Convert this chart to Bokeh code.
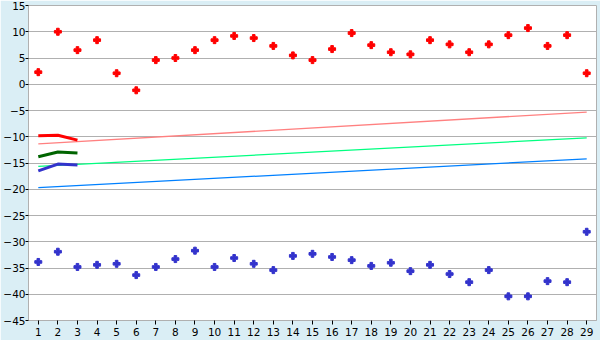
from bokeh.plotting import figure
from bokeh.embed import file_html
from bokeh.resources import INLINE
from bokeh.models import FixedTicker, LinearAxis

days = list(range(1, 30))
red_vals = [2.3, 10.0, 6.5, 8.4, 2.1, -1.15, 4.6, 5.0, 6.5, 8.4, 9.2, 8.8, 7.3, 5.5, 4.6,
            6.7, 9.75, 7.45, 6.1, 5.7, 8.4, 7.6, 6.1, 7.6, 9.35, 10.7, 7.3, 9.35, 2.1]
blue_vals = [-33.85, -31.9, -34.8, -34.4, -34.2, -36.35, -34.8, -33.3, -31.7, -34.8, -33.1,
             -34.2, -35.4, -32.7, -32.3, -32.9, -33.5, -34.6, -34.0, -35.6, -34.4, -36.15,
             -37.7, -35.4, -40.4, -40.4, -37.5, -37.7, -28.1]

trend_x = [1, 29]
red_trend = [-11.35, -5.3]
green_trend = [-15.65, -10.2]
blue_trend = [-19.7, -14.2]

short_x = [1, 2, 3]
red_short = [-9.8, -9.7, -10.65]
green_short = [-13.8, -12.9, -13.1]
blue_short = [-16.5, -15.2, -15.4]

y_ticks = list(range(-45, 16, 5))

bg = "#daeef5"
grid = "#b0b0b0"
font = "DejaVu Sans"

p = figure(width=600, height=340, x_range=(0.5, 29.5), y_range=(-45, 15),
           output_backend="svg", toolbar_location=None,
           x_axis_location=None, y_axis_location=None,
           background_fill_color="white", border_fill_color=bg,
           min_border_left=26, min_border_right=4, min_border_top=5, min_border_bottom=20)
p.outline_line_color = grid
p.outline_line_width = 1

yaxis = LinearAxis(ticker=FixedTicker(ticks=y_ticks))
xaxis = LinearAxis(ticker=FixedTicker(ticks=days))
for ax in (xaxis, yaxis):
    ax.axis_line_color = grid
    ax.major_tick_line_color = "black"
    ax.major_tick_in = 0
    ax.major_tick_out = 4
    ax.minor_tick_line_color = None
    ax.major_label_text_font = font
    ax.major_label_text_font_size = "10.5px"
    ax.major_label_text_color = "black"
yaxis.major_tick_out = 3
yaxis.major_label_standoff = 0
xaxis.major_label_standoff = 3
p.add_layout(yaxis, "left")
p.add_layout(xaxis, "below")

p.xgrid.grid_line_color = None
p.ygrid.grid_line_color = grid
p.ygrid.ticker = FixedTicker(ticks=y_ticks)

p.line(trend_x, red_trend, line_color="#ff8080", line_width=1.3)
p.line(trend_x, green_trend, line_color="#00ff80", line_width=1.3)
p.line(trend_x, blue_trend, line_color="#0080ff", line_width=1.3)

p.line(short_x, red_short, line_color="#ff0000", line_width=3)
p.line(short_x, green_short, line_color="#006400", line_width=3)
p.line(short_x, blue_short, line_color="#3333cc", line_width=3)

p.scatter(days, red_vals, marker="plus", size=7, color="#ff0000")
p.scatter(days, blue_vals, marker="plus", size=7, color="#3333cc")

open("out.html", "w").write(file_html(p, INLINE))
